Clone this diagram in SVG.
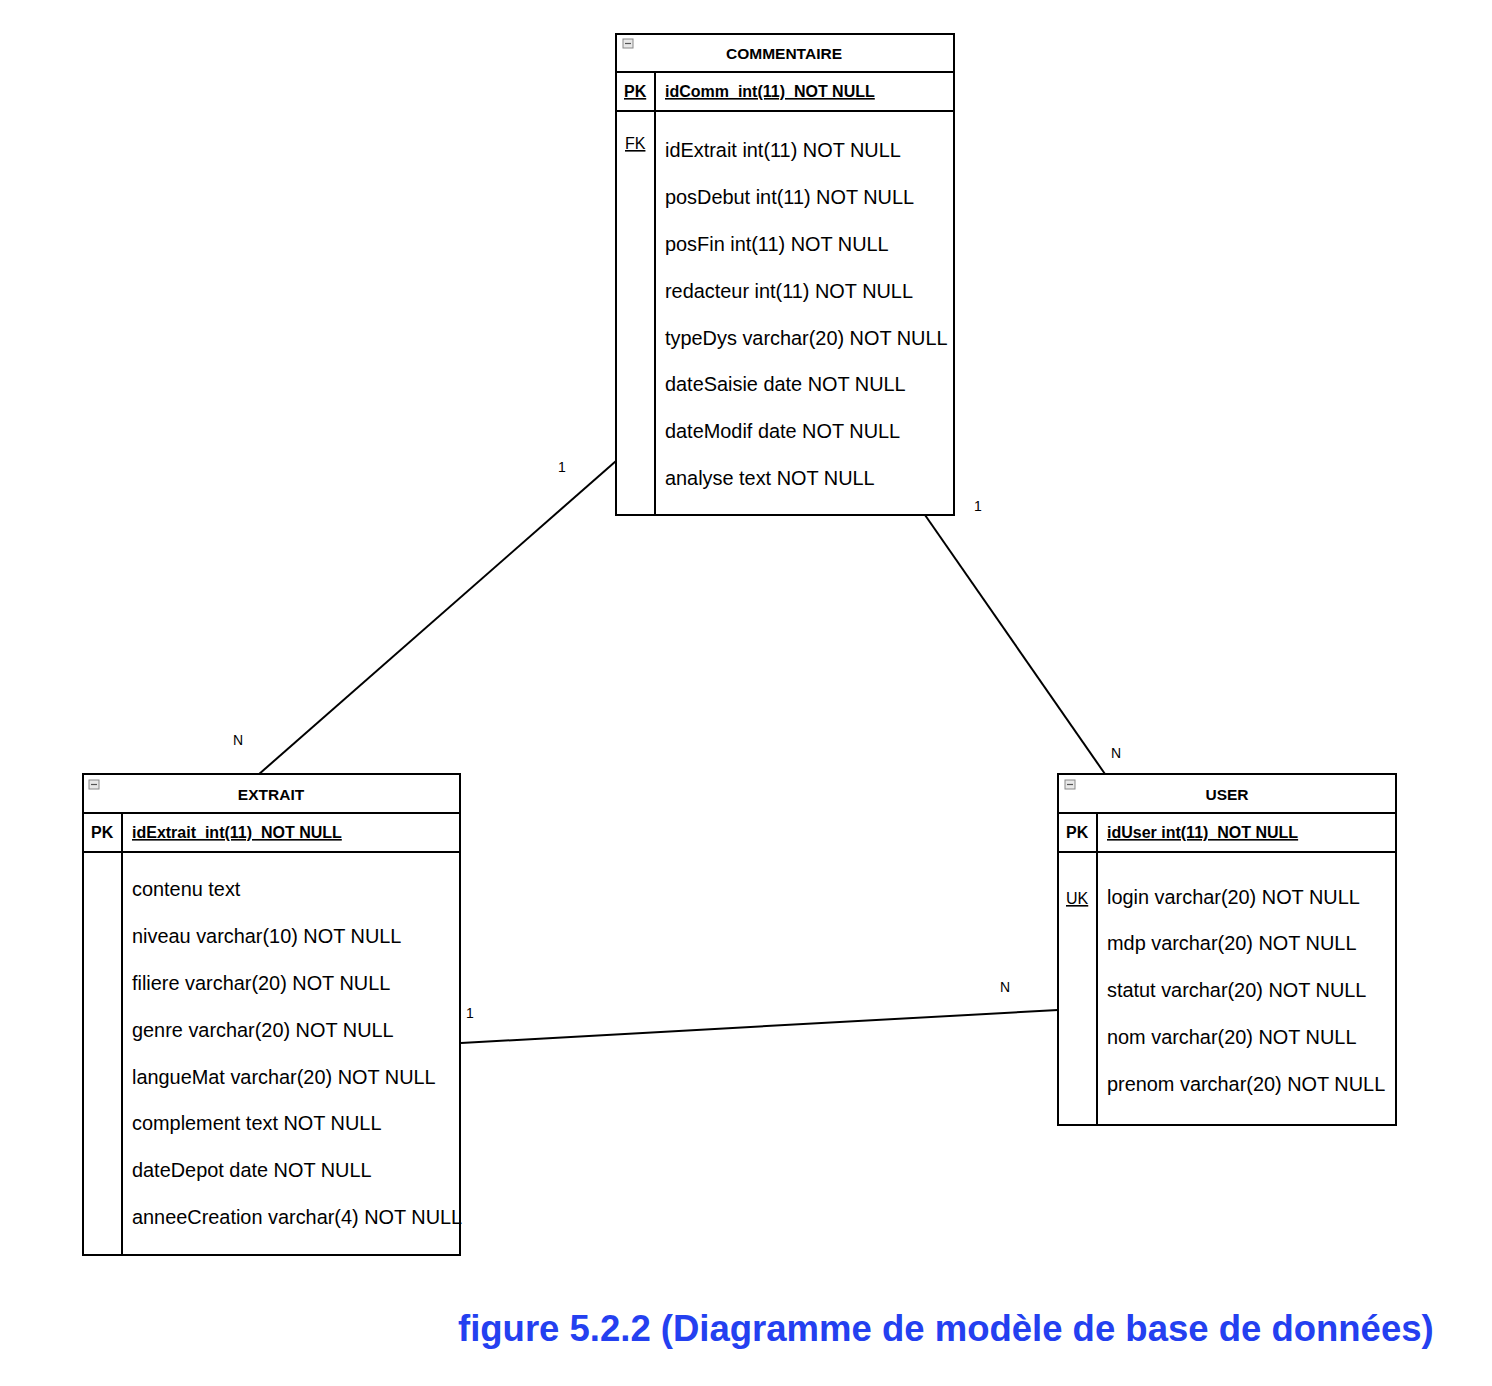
<svg xmlns="http://www.w3.org/2000/svg" width="1492" height="1386" viewBox="0 0 1492 1386">
<defs>
<style>
.box{fill:#fff;stroke:#000;stroke-width:2}
.ln{stroke:#000;stroke-width:2;fill:none}
.title{font-family:"Liberation Sans",Arial,sans-serif;font-size:15.5px;font-weight:bold;text-anchor:middle}
.pk{font-family:"Liberation Sans",Arial,sans-serif;font-size:16px;font-weight:bold;text-decoration:underline;white-space:pre}
.pkl{font-family:"Liberation Sans",Arial,sans-serif;font-size:16px;font-weight:bold}
.key{font-family:"Liberation Sans",Arial,sans-serif;font-size:16px;text-decoration:underline}
.row{font-family:"Liberation Sans",Arial,sans-serif;font-size:19.9px}
.lbl{font-family:"Liberation Sans",Arial,sans-serif;font-size:14px}
.cap{font-family:"Liberation Sans",Arial,sans-serif;font-size:36.5px;font-weight:bold;fill:#2440f0}
.ico{fill:#e8e8e8;stroke:#888;stroke-width:1}
</style>
<g id="minus">
<rect class="ico" x="0" y="0" width="10" height="9"/>
<line x1="2" y1="4.5" x2="8" y2="4.5" stroke="#555" stroke-width="1.2"/>
</g>
</defs>

<g id="connectors">
<line class="ln" x1="616" y1="461" x2="258" y2="775"/>
<line class="ln" x1="925" y1="515" x2="1105" y2="774"/>
<line class="ln" x1="461" y1="1043" x2="1058" y2="1010"/>
<text class="lbl" x="558" y="472">1</text>
<text class="lbl" x="233" y="745">N</text>
<text class="lbl" x="974" y="511">1</text>
<text class="lbl" x="1111" y="758">N</text>
<text class="lbl" x="466" y="1018">1</text>
<text class="lbl" x="1000" y="992">N</text>
</g>

<g id="commentaire">
<rect class="box" x="616" y="34" width="338" height="481"/>
<line class="ln" x1="616" y1="72" x2="954" y2="72"/>
<line class="ln" x1="616" y1="111" x2="954" y2="111"/>
<line class="ln" x1="655" y1="72" x2="655" y2="515"/>
<use href="#minus" x="623" y="39"/>
<text class="title" x="784" y="59">COMMENTAIRE</text>
<text class="pk" x="624" y="97">PK</text>
<text class="pk" x="665" y="97">idComm  int(11)  NOT NULL</text>
<text class="key" x="625" y="149">FK</text>
<text class="row" x="665" y="157">idExtrait int(11) NOT NULL</text>
<text class="row" x="665" y="204">posDebut int(11) NOT NULL</text>
<text class="row" x="665" y="251">posFin int(11) NOT NULL</text>
<text class="row" x="665" y="298">redacteur int(11) NOT NULL</text>
<text class="row" x="665" y="345">typeDys varchar(20) NOT NULL</text>
<text class="row" x="665" y="391">dateSaisie date NOT NULL</text>
<text class="row" x="665" y="438">dateModif date NOT NULL</text>
<text class="row" x="665" y="485">analyse text NOT NULL</text>
</g>

<g id="extrait">
<rect class="box" x="83" y="774" width="377" height="481"/>
<line class="ln" x1="83" y1="813" x2="460" y2="813"/>
<line class="ln" x1="83" y1="852" x2="460" y2="852"/>
<line class="ln" x1="122" y1="813" x2="122" y2="1255"/>
<use href="#minus" x="89" y="780"/>
<text class="title" x="271" y="800">EXTRAIT</text>
<text class="pkl" x="91" y="838">PK</text>
<text class="pk" x="132" y="838">idExtrait  int(11)  NOT NULL</text>
<text class="row" x="132" y="896">contenu text</text>
<text class="row" x="132" y="943">niveau varchar(10) NOT NULL</text>
<text class="row" x="132" y="990">filiere varchar(20) NOT NULL</text>
<text class="row" x="132" y="1037">genre varchar(20) NOT NULL</text>
<text class="row" x="132" y="1084">langueMat varchar(20) NOT NULL</text>
<text class="row" x="132" y="1130">complement text NOT NULL</text>
<text class="row" x="132" y="1177">dateDepot date NOT NULL</text>
<text class="row" x="132" y="1224">anneeCreation varchar(4) NOT NULL</text>
</g>

<g id="user">
<rect class="box" x="1058" y="774" width="338" height="351"/>
<line class="ln" x1="1058" y1="813" x2="1396" y2="813"/>
<line class="ln" x1="1058" y1="852" x2="1396" y2="852"/>
<line class="ln" x1="1097" y1="813" x2="1097" y2="1125"/>
<use href="#minus" x="1065" y="780"/>
<text class="title" x="1227" y="800">USER</text>
<text class="pkl" x="1066" y="838">PK</text>
<text class="pk" x="1107" y="838">idUser int(11)  NOT NULL</text>
<text class="key" x="1066" y="904">UK</text>
<text class="row" x="1107" y="904">login varchar(20) NOT NULL</text>
<text class="row" x="1107" y="950">mdp varchar(20) NOT NULL</text>
<text class="row" x="1107" y="997">statut varchar(20) NOT NULL</text>
<text class="row" x="1107" y="1044">nom varchar(20) NOT NULL</text>
<text class="row" x="1107" y="1091">prenom varchar(20) NOT NULL</text>
</g>

<text class="cap" x="458" y="1341">figure 5.2.2 (Diagramme de modèle de base de données)</text>
</svg>
